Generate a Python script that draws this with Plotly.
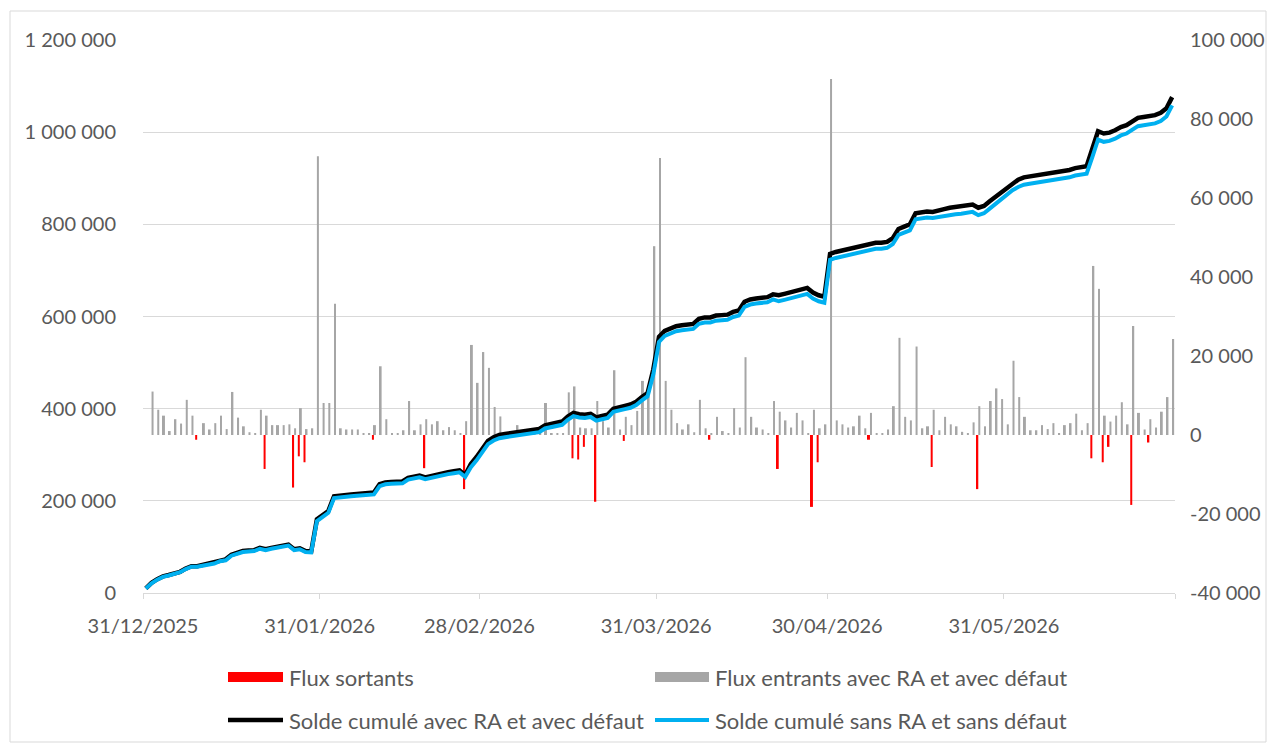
import plotly.graph_objects as go
import pandas as pd

# ---------------- data ----------------
start_date = "2025-12-31"
n_days = 181
dates = pd.date_range(start_date, periods=n_days, freq="D")

flux_entrants = [
    0, 11000, 6400, 4900, 1000, 4000, 2900, 8900, 4900, 0,
    3000, 1400, 3000, 4900, 1500, 10900, 4400, 2200, 700, 500,
    6400, 4900, 2500, 2500, 2500, 2700, 1700, 6800, 1500, 1700,
    70600, 8100, 8100, 33200, 1700, 1400, 1400, 1400, 500, 500,
    2500, 17400, 4000, 500, 500, 1200, 8600, 1200, 2700, 4000,
    2700, 3500, 1200, 2000, 1200, 500, 3500, 22800, 13200, 21000,
    17000, 7100, 4700, 500, 500, 2500, 500, 500, 500, 500,
    8100, 500, 500, 500, 10800, 12300, 1900, 1700, 1700, 8600,
    3500, 1900, 16400, 1400, 4600, 2500, 6100, 13700, 9800, 47800,
    70100, 13700, 6400, 3000, 1400, 2700, 700, 8900, 1700, 300,
    4600, 1000, 500, 6800, 1900, 19700, 4600, 1900, 1400, 500,
    8600, 5900, 3700, 1900, 5600, 3700, 500, 6400, 1700, 2700,
    90100, 3700, 2700, 1900, 2200, 4900, 1700, 5600, 500, 500,
    1400, 7300, 24600, 4600, 3700, 22400, 1700, 2200, 6400, 1200,
    4600, 2700, 2200, 800, 500, 3200, 7300, 2200, 8600, 11800,
    9100, 2700, 18800, 9600, 4600, 1200, 1200, 2500, 1500, 3000,
    300, 2500, 3000, 5400, 1200, 3000, 42800, 37000, 4900, 3400,
    4900, 8300, 2700, 27600, 5600, 1400, 4000, 1900, 5900, 9600,
    24300,
]

flux_sortants = [
    0, 0, 0, 0, 0, 0, 0, 0, 0, -1200,
    0, 0, 0, 0, 0, 0, 0, 0, 0, 0,
    0, -8600, 0, 0, 0, 0, -13300, -5400, -6900, 0,
    0, 0, 0, 0, 0, 0, 0, 0, 0, 0,
    -1200, 0, 0, 0, 0, 0, 0, 0, 0, -8400,
    0, 0, 0, 0, 0, 0, -13700, 0, 0, 0,
    0, 0, 0, 0, 0, 0, 0, 0, 0, 0,
    0, 0, 0, 0, 0, -5900, -6200, -3000, 0, -16900,
    0, 0, 0, 0, -1500, 0, 0, 0, 0, 0,
    0, 0, 0, 0, 0, 0, 0, 0, 0, -1200,
    0, 0, 0, 0, 0, 0, 0, 0, 0, 0,
    0, -8600, 0, 0, 0, 0, 0, -18200, -6900, 0,
    0, 0, 0, 0, 0, 0, 0, -1200, 0, 0,
    0, 0, 0, 0, 0, 0, 0, 0, -8100, 0,
    0, 0, 0, 0, 0, 0, -13700, 0, 0, 0,
    0, 0, 0, 0, 0, 0, 0, 0, 0, 0,
    0, 0, 0, 0, 0, 0, -5900, 0, -6900, -3000,
    0, 0, 0, -17700, 0, 0, -1900, 0, 0, 0,
    0,
]

solde_avec_ra = [
    10000, 22000, 30000, 36000, 39000, 42000, 46000, 53000, 58000, 58000,
    61000, 63000, 66000, 71000, 73000, 83000, 88000, 91000, 92000, 93000,
    98000, 95000, 98000, 100000, 102000, 105000, 95000, 97000, 91000, 90000,
    160000, 169000, 178000, 210000, 212000, 213000, 214000, 215000, 216000, 217000,
    218000, 236000, 240000, 241000, 241000, 242000, 250000, 252000, 255000, 251000,
    254000, 258000, 260000, 262000, 264000, 266000, 256000, 280000, 295000, 314000,
    330000, 338000, 343000, 345000, 347000, 350000, 351000, 352000, 354000, 356000,
    364000, 366000, 369000, 372000, 383000, 391000, 388000, 387000, 389000, 381000,
    384000, 387000, 400000, 402000, 406000, 409000, 415000, 425000, 434000, 485000,
    556000, 569000, 575000, 579000, 581000, 583000, 584000, 595000, 598000, 598000,
    602000, 603000, 604000, 610000, 613000, 632000, 637000, 639000, 641000, 642000,
    648000, 646000, 649000, 652000, 656000, 660000, 662000, 652000, 646000, 643000,
    736000, 740000, 743000, 746000, 749000, 753000, 755000, 759000, 760000, 760000,
    762000, 770000, 790000, 795000, 800000, 824000, 826000, 828000, 827000, 829000,
    833000, 836000, 838000, 839000, 840000, 843000, 836000, 840000, 850000, 860000,
    868000, 878000, 890000, 897000, 902000, 904000, 906000, 908000, 910000, 912000,
    913000, 915000, 918000, 922000, 924000, 926000, 964000, 1002000, 997000, 999000,
    1004000, 1011000, 1015000, 1024000, 1031000, 1033000, 1035000, 1037000, 1042000, 1052000,
    1076000,
]

solde_sans_ra = [
    10000, 21000, 29000, 35000, 38000, 41000, 45000, 52000, 57000, 57000,
    59000, 61000, 64000, 69000, 71000, 81000, 86000, 89000, 90000, 91000,
    96000, 93000, 96000, 98000, 100000, 103000, 93000, 95000, 89000, 88000,
    156000, 165000, 174000, 206000, 208000, 209000, 210000, 211000, 212000, 213000,
    214000, 232000, 236000, 237000, 237000, 238000, 246000, 248000, 251000, 247000,
    250000, 254000, 256000, 258000, 260000, 262000, 252000, 273000, 288000, 307000,
    323000, 331000, 336000, 338000, 340000, 343000, 344000, 345000, 347000, 349000,
    357000, 359000, 362000, 365000, 376000, 384000, 381000, 380000, 382000, 374000,
    377000, 380000, 393000, 395000, 399000, 402000, 408000, 418000, 427000, 474000,
    545000, 558000, 564000, 568000, 570000, 572000, 573000, 584000, 587000, 587000,
    591000, 592000, 593000, 599000, 602000, 621000, 626000, 628000, 630000, 631000,
    637000, 633000, 636000, 639000, 643000, 647000, 649000, 639000, 633000, 630000,
    723000, 727000, 730000, 733000, 736000, 740000, 742000, 746000, 747000, 747000,
    749000, 757000, 777000, 782000, 787000, 811000, 813000, 815000, 814000, 816000,
    820000, 820000, 822000, 823000, 824000, 827000, 820000, 824000, 834000, 844000,
    852000, 862000, 874000, 881000, 886000, 888000, 890000, 892000, 894000, 896000,
    897000, 899000, 902000, 906000, 908000, 910000, 946000, 984000, 979000, 981000,
    986000, 993000, 997000, 1006000, 1013000, 1015000, 1017000, 1019000, 1024000, 1034000,
    1058000,
]

left_ticks = [0, 200000, 400000, 600000, 800000, 1000000, 1200000]
right_ticks = [-40000, -20000, 0, 20000, 40000, 60000, 80000, 100000]
x_tick_dates = ["2025-12-31", "2026-01-31", "2026-02-28", "2026-03-31",
                "2026-04-30", "2026-05-31", "2026-06-30"]
x_tick_labels = ["31/12/2025", "31/01/2026", "28/02/2026", "31/03/2026",
                 "30/04/2026", "31/05/2026", ""]

names = ["Flux sortants", "Flux entrants avec RA et avec défaut",
         "Solde cumulé avec RA et avec défaut", "Solde cumulé sans RA et sans défaut"]
colors = ["#FF0000", "#A6A6A6", "#000000", "#00B0F0"]


def fmt(v):
    return f"{v:,}".replace(",", " ")


# ---------------- figure geometry ----------------
# page has an 8px body margin, so the figure is 16px smaller than the window
W, H = 1261, 735
ML, MR, MT, MB = 135, 94, 32, 150
PW, PH = W - ML - MR, H - MT - MB
PAGE_OFF = 8


def px_x(p):  # page pixel -> paper
    return (p - PAGE_OFF - ML) / PW


def px_y(p):
    return (H - MB - (p - PAGE_OFF)) / PH


FONT = "Lato, 'Open Sans', Arial, sans-serif"
TXT = "#595959"
GRID = "#D9D9D9"
DAY_MS = 86400000

fig = go.Figure()

fig.add_trace(go.Bar(
    x=dates, y=flux_sortants, name=names[0], marker_color=colors[0],
    marker_line_width=0, xperiod=DAY_MS, xperiodalignment="middle",
    yaxis="y", showlegend=False,
))
fig.add_trace(go.Bar(
    x=dates, y=flux_entrants, name=names[1], marker_color=colors[1],
    marker_line_width=0, xperiod=DAY_MS, xperiodalignment="middle",
    yaxis="y", showlegend=False,
))
fig.add_trace(go.Scatter(
    x=dates, y=solde_avec_ra, name=names[2], mode="lines",
    line=dict(color=colors[2], width=4.5), xperiod=DAY_MS,
    xperiodalignment="middle", yaxis="y2", showlegend=False,
))
fig.add_trace(go.Scatter(
    x=dates, y=solde_sans_ra, name=names[3], mode="lines",
    line=dict(color=colors[3], width=4), xperiod=DAY_MS,
    xperiodalignment="middle", yaxis="y2", showlegend=False,
))

# manual legend (Excel-like swatches) + chart border
shapes = [
    dict(type="rect", xref="paper", yref="paper",
         x0=px_x(10), x1=px_x(1266), y0=px_y(742), y1=px_y(11),
         line=dict(color=GRID, width=1), fillcolor="rgba(0,0,0,0)", layer="below"),
    dict(type="rect", xref="paper", yref="paper",
         x0=px_x(228), x1=px_x(283), y0=px_y(682), y1=px_y(672),
         line=dict(width=0), fillcolor=colors[0]),
    dict(type="rect", xref="paper", yref="paper",
         x0=px_x(655), x1=px_x(709), y0=px_y(682), y1=px_y(672),
         line=dict(width=0), fillcolor=colors[1]),
    dict(type="line", xref="paper", yref="paper",
         x0=px_x(228), x1=px_x(283), y0=px_y(720), y1=px_y(720),
         line=dict(color=colors[2], width=4.5)),
    dict(type="line", xref="paper", yref="paper",
         x0=px_x(655), x1=px_x(709), y0=px_y(720), y1=px_y(720),
         line=dict(color=colors[3], width=4)),
]
legend_pos = [(287, 677), (713, 677), (287, 720), (713, 720)]
annotations = [
    dict(xref="paper", yref="paper", x=px_x(px), y=px_y(py), text=nm,
         showarrow=False, xanchor="left", yanchor="middle",
         font=dict(family=FONT, size=22, color=TXT))
    for nm, (px, py) in zip(names, legend_pos)
]

fig.update_layout(
    width=W, height=H, autosize=False,
    margin=dict(l=ML, r=MR, t=MT, b=MB, pad=0, autoexpand=False),
    paper_bgcolor="white", plot_bgcolor="white",
    font=dict(family=FONT, size=20, color=TXT),
    barmode="group", bargap=0.3, bargroupgap=0,
    showlegend=False,
    shapes=shapes, annotations=annotations,
    xaxis=dict(
        type="date", range=[x_tick_dates[0], x_tick_dates[-1]],
        tickmode="array", tickvals=x_tick_dates, ticktext=x_tick_labels,
        ticks="outside", ticklen=5, tickcolor=GRID, tickwidth=1,
        showline=True, linecolor=GRID, linewidth=1, automargin=False,
        showgrid=False, zeroline=False, ticklabelstandoff=10,
        tickfont=dict(family=FONT, size=20, color=TXT),
    ),
    yaxis=dict(
        side="right", range=[right_ticks[0], right_ticks[-1]],
        tickmode="array", tickvals=right_ticks,
        ticktext=[fmt(v) for v in right_ticks], automargin=False,
        showgrid=False, zeroline=False, showline=False, ticks="",
        ticklabelstandoff=14,
        tickfont=dict(family=FONT, size=20, color=TXT),
    ),
    yaxis2=dict(
        side="left", overlaying="y", range=[left_ticks[0], left_ticks[-1]],
        tickmode="array", tickvals=left_ticks,
        ticktext=[fmt(v) for v in left_ticks], automargin=False,
        showgrid=True, gridcolor=GRID, gridwidth=1,
        zeroline=False, showline=False, ticks="",
        ticklabelstandoff=26,
        tickfont=dict(family=FONT, size=20, color=TXT),
    ),
)

fig.write_html("out.html")
